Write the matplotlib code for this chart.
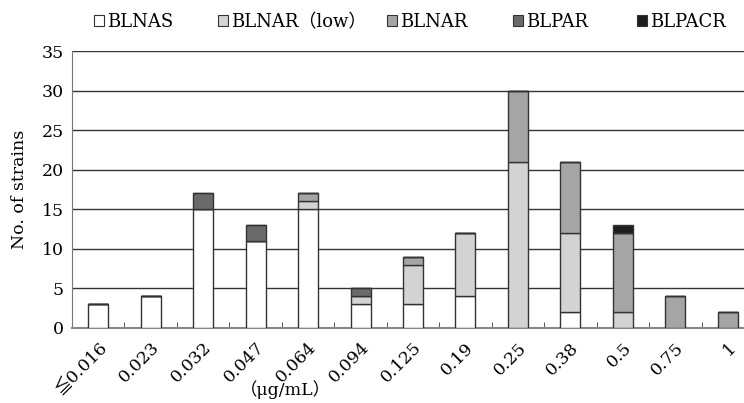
import numpy as np
import matplotlib.pyplot as plt
from matplotlib.patches import Patch

plt.rcParams['font.family'] = ['DejaVu Serif', 'Noto Sans CJK JP']

# MIC categories
mic = ['≦0.016', '0.023', '0.032', '0.047', '0.064', '0.094', '0.125',
       '0.19', '0.25', '0.38', '0.5', '0.75', '1']

# strain counts per group
blnas = [3, 4, 15, 11, 15, 3, 3, 4, 0, 2, 0, 0, 0]
blnar_low = [0, 0, 0, 0, 1, 1, 5, 8, 21, 10, 2, 0, 0]
blnar = [0, 0, 0, 0, 1, 0, 1, 0, 9, 9, 10, 4, 2]
blpar = [0, 0, 2, 2, 0, 1, 0, 0, 0, 0, 0, 0, 0]
blpacr = [0, 0, 0, 0, 0, 0, 0, 0, 0, 0, 1, 0, 0]

names = ['BLNAS', 'BLNAR（low）', 'BLNAR', 'BLPAR', 'BLPACR']
colors = ['#ffffff', '#d3d3d3', '#a5a5a5', '#6a6a6a', '#1e1e1e']
series = [blnas, blnar_low, blnar, blpar, blpacr]

fig = plt.figure(figsize=(7.44, 4.03), dpi=100)
ax = fig.add_axes([72/744, 75/403, 682/744, 277/403])

x = np.arange(len(mic))
bottom = np.zeros(len(mic))
for vals, c in zip(series, colors):
    v = np.array(vals)
    ax.bar(x, v, 0.38, bottom=bottom, color=c, edgecolor='#333333', linewidth=1.0, zorder=3)
    bottom += v

ax.set_xlim(-0.5, len(mic) - 0.5)
ax.set_ylim(0, 35)
ax.set_yticks(range(0, 36, 5))
ax.yaxis.grid(True, color='#333333', linewidth=1.0, zorder=0)
ax.tick_params(axis='y', length=0, labelsize=12.5, pad=6)

# category boundary ticks pointing up
ax.set_xticks(x)
ax.set_xticklabels(mic, rotation=45, ha='right', rotation_mode='anchor', fontsize=12.5)
ax.tick_params(axis='x', length=0, pad=8)
ax.set_xticks(np.arange(0.5, len(mic) - 0.5, 1), minor=True)
ax.tick_params(axis='x', which='minor', direction='in', length=4, color='#333333')

for s in ['right', 'top']:
    ax.spines[s].set_visible(False)
ax.spines['left'].set_color('#777777')
ax.spines['bottom'].set_color('#888888')
ax.spines['bottom'].set_linewidth(1.5)

ax.set_ylabel('No. of strains', fontsize=12.5, labelpad=10)
fig.text(285/744, 1 - 390/403, '（μg/mL）', ha='center', va='center', fontsize=12.5)

# legend entries placed one by one across the top
leg_x = [94, 218, 387, 513, 637]
for lx, name, c in zip(leg_x, names, colors):
    h = Patch(facecolor=c, edgecolor='#333333', linewidth=0.8)
    lg = fig.legend([h], [name], loc='center left', bbox_to_anchor=(lx/744, 1 - 22/403),
                    frameon=False, fontsize=13, handlelength=0.55, handleheight=0.55,
                    handletextpad=0.2, borderpad=0, borderaxespad=0)

plt.savefig('out.png', dpi=100)
